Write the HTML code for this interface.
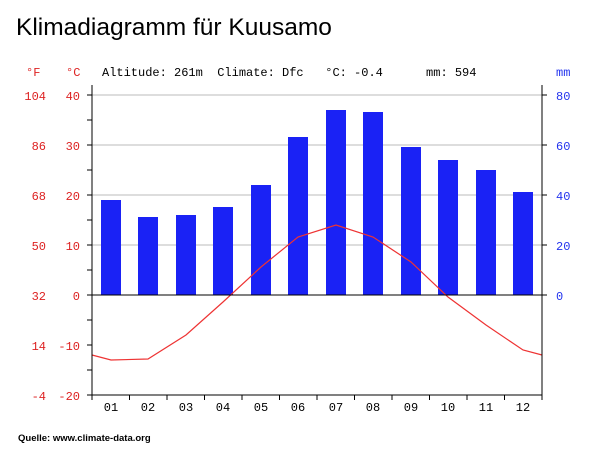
<!DOCTYPE html><html><head><style>body{margin:0;background:#fff}</style></head><body>
<svg width="600" height="462" xmlns="http://www.w3.org/2000/svg" font-family="Liberation Mono, monospace">
<text x="16" y="35" font-family="Liberation Sans, sans-serif" font-size="24.5" fill="#000">Klimadiagramm für Kuusamo</text>
<g font-size="12" fill="#d22">
<text x="26" y="76">°F</text><text x="66" y="76">°C</text>
<g text-anchor="end"><text x="46" y="100">104</text><text x="46" y="150">86</text><text x="46" y="200">68</text><text x="46" y="250">50</text><text x="46" y="300">32</text><text x="46" y="350">14</text><text x="46" y="400">-4</text>
<text x="80" y="100">40</text><text x="80" y="150">30</text><text x="80" y="200">20</text><text x="80" y="250">10</text><text x="80" y="300">0</text><text x="80" y="350">-10</text><text x="80" y="400">-20</text></g></g>
<text x="102" y="76" font-size="12" fill="#000" xml:space="preserve">Altitude: 261m  Climate: Dfc   °C: -0.4      mm: 594</text>
<g font-size="12" fill="#2233ee"><text x="556" y="76">mm</text><text x="556" y="100">80</text><text x="556" y="150">60</text><text x="556" y="200">40</text><text x="556" y="250">20</text><text x="556" y="300">0</text></g>
<g stroke="#bbb"><line x1="92" y1="95" x2="542" y2="95"/><line x1="92" y1="145" x2="542" y2="145"/><line x1="92" y1="195" x2="542" y2="195"/><line x1="92" y1="245" x2="542" y2="245"/></g>
<g fill="#1a22f5">
<rect x="101" y="200" width="20" height="95"/><rect x="138" y="217" width="20" height="78"/><rect x="176" y="215" width="20" height="80"/><rect x="213" y="207" width="20" height="88"/><rect x="251" y="185" width="20" height="110"/><rect x="288" y="137" width="20" height="158"/><rect x="326" y="110" width="20" height="185"/><rect x="363" y="112" width="20" height="183"/><rect x="401" y="147" width="20" height="148"/><rect x="438" y="160" width="20" height="135"/><rect x="476" y="170" width="20" height="125"/><rect x="513" y="192" width="20" height="103"/></g>
<polyline fill="none" stroke="#e33" stroke-width="1.2" points="92,355 111,360 148,359 186,335 223,302 261,267 298,237 336,225 373,237 411,262 448,297 486,325 523,350 542,355"/>
<g stroke="#000"><line x1="92" y1="295" x2="542" y2="295"/><line x1="92" y1="85" x2="92" y2="396"/><line x1="542" y1="85" x2="542" y2="396"/><line x1="92" y1="395" x2="542" y2="395"/>
<path d="M87 95H92M87 120H92M87 145H92M87 170H92M87 195H92M87 220H92M87 245H92M87 270H92M87 295H92M87 320H92M87 345H92M87 370H92M87 395H92M542 95H547M542 145H547M542 195H547M542 245H547M542 295H547"/>
<path d="M92 395V400M129.5 395V400M167 395V400M204.5 395V400M242 395V400M279.5 395V400M317 395V400M354.5 395V400M392 395V400M429.5 395V400M467 395V400M504.5 395V400M542 395V400"/></g>
<g font-size="12" fill="#000" text-anchor="middle"><text x="111" y="411">01</text><text x="148" y="411">02</text><text x="186" y="411">03</text><text x="223" y="411">04</text><text x="261" y="411">05</text><text x="298" y="411">06</text><text x="336" y="411">07</text><text x="373" y="411">08</text><text x="411" y="411">09</text><text x="448" y="411">10</text><text x="486" y="411">11</text><text x="523" y="411">12</text></g>
<text x="18" y="441" font-family="Liberation Sans, sans-serif" font-size="9.5" font-weight="bold" fill="#000">Quelle: www.climate-data.org</text>
</svg></body></html>
